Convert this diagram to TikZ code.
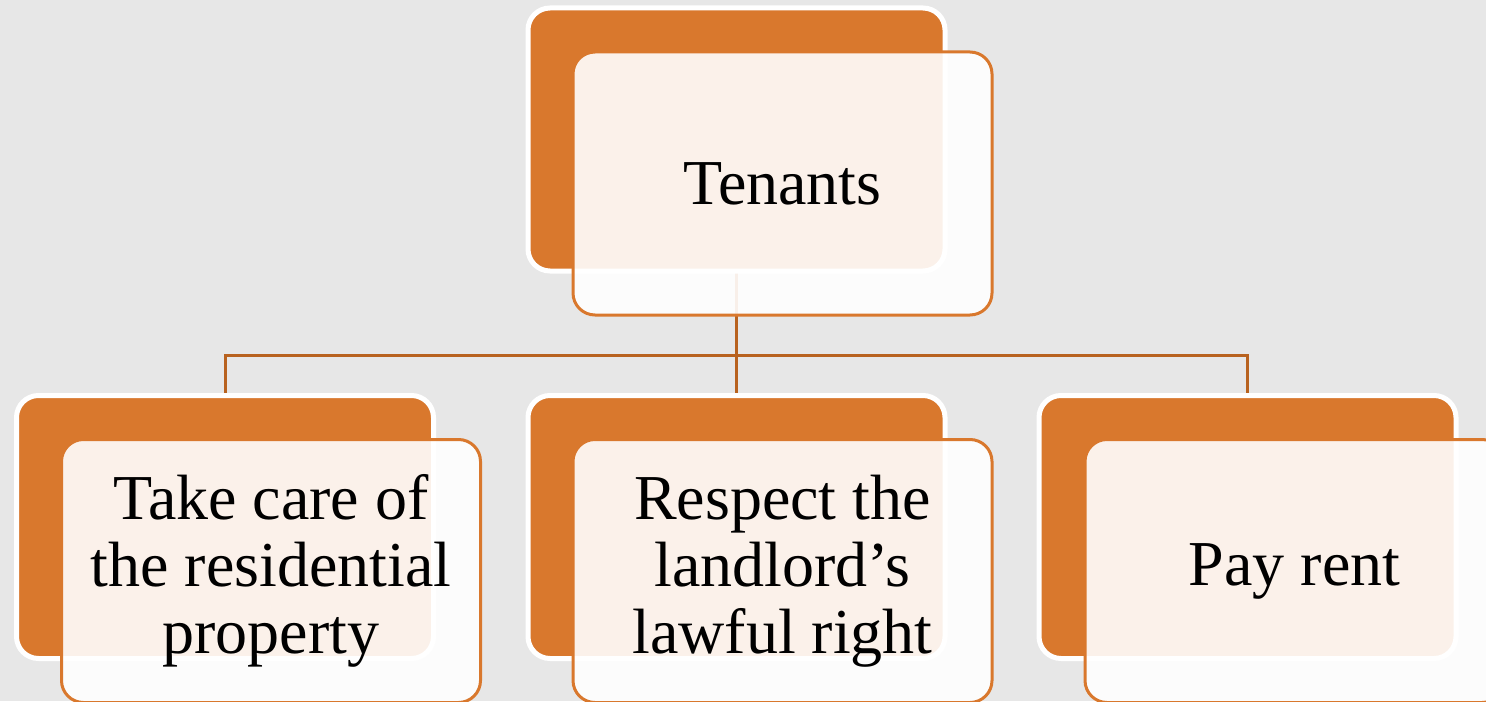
\documentclass[tikz,border=0pt]{standalone}
\usepackage{fontspec}
\setmainfont{Liberation Serif}
\usetikzlibrary{backgrounds}
\definecolor{bg}{HTML}{E7E7E7}
\definecolor{org}{HTML}{D9782D}
\definecolor{conncol}{HTML}{B8621F}
\begin{document}
\begin{tikzpicture}[x=0.5pt,y=-0.5pt,
  backbox/.style={draw=white, line width=2.5pt, fill=org, rounded corners=11pt,
    minimum width=208.5pt, minimum height=131.5pt, inner sep=0pt, outer sep=0pt},
  frontbox/.style={draw=org, line width=1.5pt, fill=white, fill opacity=0.9, text opacity=1,
    rounded corners=11pt, minimum width=209.5pt, minimum height=131.5pt, inner sep=0pt,
    outer sep=0pt, align=center, font=\fontsize{32}{33.5}\selectfont, text=black},
  connline/.style={draw=conncol, line width=1.5pt}]
\useasboundingbox (0,0) rectangle (1486,701);
\clip (0,0) rectangle (1486,701);
\node[backbox] (tb) at (736.5,139.5) {};
\node[backbox] (lb) at (225,527) {};
\node[backbox] (mb) at (736.5,527) {};
\node[backbox] (rb) at (1247.5,527) {};
\coordinate (j) at (736.5,355);
\begin{pgfonlayer}{background}
  \fill[bg] (0,0) rectangle (1486,701);
  \draw[connline] (tb.south) -- (j);
  \draw[connline] (j) -| (lb.north);
  \draw[connline] (j) -- (mb.north);
  \draw[connline] (j) -| (rb.north);
\end{pgfonlayer}
\node[frontbox] (tf) at (782.5,183.5) {Tenants};
\node[frontbox] (lf) at (271,571) {Take care of\\the residential\\property};
\node[frontbox] (mf) at (782.5,571) {Respect the\\landlord’s\\lawful right};
\node[frontbox] (rf) at (1294.5,571) {Pay rent};
\end{tikzpicture}
\end{document}
